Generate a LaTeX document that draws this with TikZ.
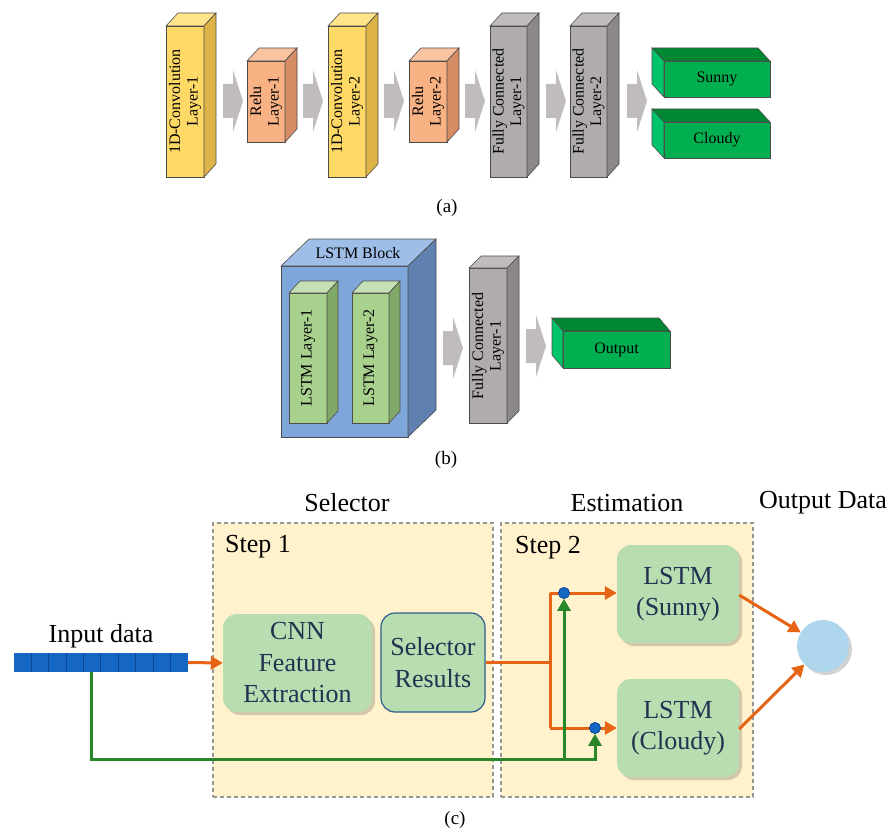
\documentclass[tikz,border=0pt]{standalone}
\usepackage{fontspec}
\setmainfont{Liberation Serif}
\usetikzlibrary{arrows.meta,shadows,calc}

% block colours: F = front, T = top, S = side
\definecolor{convF}{RGB}{255,217,102}
\definecolor{convT}{RGB}{255,228,140}
\definecolor{convS}{RGB}{222,180,72}
\definecolor{reluF}{RGB}{248,178,132}
\definecolor{reluT}{RGB}{251,196,160}
\definecolor{reluS}{RGB}{214,140,100}
\definecolor{fcF}{RGB}{176,172,172}
\definecolor{fcT}{RGB}{192,188,188}
\definecolor{fcS}{RGB}{140,136,136}
\definecolor{grnF}{RGB}{0,176,80}
\definecolor{grnT}{RGB}{0,135,50}
\definecolor{grnS}{RGB}{0,196,106}
\definecolor{blkF}{RGB}{126,166,218}
\definecolor{blkT}{RGB}{158,190,232}
\definecolor{blkS}{RGB}{96,128,176}
\definecolor{lstF}{RGB}{169,209,142}
\definecolor{lstT}{RGB}{197,224,180}
\definecolor{lstS}{RGB}{128,168,104}
\definecolor{chevgray}{RGB}{192,188,188}
\definecolor{stepfill}{RGB}{255,242,204}
\definecolor{stepline}{RGB}{150,150,150}
\definecolor{boxfill}{RGB}{183,221,176}
\definecolor{boxtext}{RGB}{35,50,80}
\definecolor{selline}{RGB}{46,92,140}
\definecolor{orangeline}{RGB}{230,100,20}
\definecolor{greenline}{RGB}{40,135,40}
\definecolor{barblue}{RGB}{22,102,196}
\definecolor{bardiv}{RGB}{15,70,150}
\definecolor{outcircle}{RGB}{174,214,236}

% 3D block with its depth going up and to the right
\newcommand\cubeR[7]{%
  \filldraw[edge, fill=#7F] (#1,#2) rectangle (#3,#4);
  \filldraw[edge, fill=#7T] (#1,#2) -- (#1+#5,#2-#6) -- (#3+#5,#2-#6) -- (#3,#2) -- cycle;
  \filldraw[edge, fill=#7S] (#3,#2) -- (#3+#5,#2-#6) -- (#3+#5,#4-#6) -- (#3,#4) -- cycle;
}
% 3D block with its depth going up and to the left
\newcommand\cubeL[7]{%
  \filldraw[edge, fill=#7F] (#1,#2) rectangle (#3,#4);
  \filldraw[edge, fill=#7T] (#1,#2) -- (#1-#5,#2-#6) -- (#3-#5,#2-#6) -- (#3,#2) -- cycle;
  \filldraw[edge, fill=#7S] (#1,#2) -- (#1-#5,#2-#6) -- (#1-#5,#4-#6) -- (#1,#4) -- cycle;
}
% wide grey block arrow between layers
\newcommand\chev[2]{%
  \fill[chevgray] (#1,#2-17) -- (#1+10,#2-17) -- (#1+10,#2-31) -- (#1+20,#2)
     -- (#1+10,#2+31) -- (#1+10,#2+17) -- (#1,#2+17) -- cycle;
}

\tikzset{
  edge/.style={draw=black!70, line width=0.6pt},
  rot/.style={rotate=90, align=center, font=\fontsize{16}{17.5}\selectfont, inner sep=0pt},
  flat/.style={align=center, font=\fontsize{16}{18}\selectfont, inner sep=0pt},
  subcap/.style={font=\fontsize{19}{22}\selectfont, inner sep=0pt},
  big/.style={font=\fontsize{26}{31}\selectfont, inner sep=0pt},
  stepbox/.style={draw=stepline, fill=stepfill, dashed, dash pattern=on 4pt off 3pt, line width=1.2pt},
  procbox/.style={rounded corners=14pt, fill=boxfill, text=boxtext, align=center,
    font=\fontsize{26}{31.5}\selectfont, inner sep=0pt},
  shadowed/.style={drop shadow={shadow xshift=3pt, shadow yshift=-3pt, opacity=0.22, fill=black!80}},
  oline/.style={draw=orangeline, line width=3pt},
  gline/.style={draw=greenline, line width=3pt},
  tip/.style={-{Triangle[length=12pt,width=13pt]}},
  dot/.style={circle, fill=barblue, draw=bardiv, line width=0.6pt, minimum size=11pt, inner sep=0pt},
}

\begin{document}
\begin{tikzpicture}[x=1pt, y=-1pt]
\useasboundingbox (0,0) rectangle (894,832);

% ---------------- (a) CNN ----------------
\cubeR{166}{26}{204}{177}{12}{13}{conv}
\chev{223}{101}
\cubeR{247}{61}{285}{142}{12}{13}{relu}
\chev{303}{101}
\cubeR{328}{26}{366}{177}{12}{13}{conv}
\chev{384}{101}
\cubeR{409}{61}{447}{142}{12}{13}{relu}
\chev{465}{101}
\cubeR{490}{26}{527}{177}{12}{13}{fc}
\chev{546}{101}
\cubeR{570}{26}{607}{177}{12}{13}{fc}
\chev{627}{101}
\cubeL{664}{61}{770}{97}{12}{13}{grn}
\cubeL{664}{122}{770}{158}{12}{13}{grn}

\node[rot] (conv1) at (185,101.5) {1D-Convolution\\Layer-1};
\node[rot] (relu1) at (266,101.5) {Relu\\Layer-1};
\node[rot] (conv2) at (347,101.5) {1D-Convolution\\Layer-2};
\node[rot] (relu2) at (428,101.5) {Relu\\Layer-2};
\node[rot] (fca1) at (508.5,101.5) {Fully Connected\\Layer-1};
\node[rot] (fca2) at (588.5,101.5) {Fully Connected\\Layer-2};
\node[flat] (sunnyout) at (717,79) {Sunny};
\node[flat] (cloudyout) at (717,140) {Cloudy};
\node[subcap] (capa) at (447,208) {(a)};

% ---------------- (b) LSTM ----------------
\cubeR{281}{266}{408}{437}{28}{27}{blk}
\cubeR{289}{293}{327}{423}{11}{12}{lst}
\cubeR{352}{293}{389}{423}{11}{12}{lst}
\chev{443}{348}
\cubeR{469}{268}{507}{423}{12}{12}{fc}
\chev{526}{346}
\cubeL{563}{331}{670}{368}{11}{13}{grn}

\node[flat] (blocklabel) at (358,253) {LSTM Block};
\node[rot] (lstm1) at (308,358) {LSTM Layer-1};
\node[rot] (lstm2) at (370.5,358) {LSTM Layer-2};
\node[rot] (fcb) at (488,346) {Fully Connected\\Layer-1};
\node[flat] (outb) at (616.5,350) {Output};
\node[subcap] (capb) at (446,460) {(b)};

% ---------------- (c) selector / estimation ----------------
\node[stepbox, minimum width=280pt, minimum height=274pt, inner sep=0pt] (step1) at (353,660) {};
\node[stepbox, minimum width=252pt, minimum height=274pt, inner sep=0pt] (step2) at (627,660) {};

\node[big] (selt) at (347,503) {Selector};
\node[big] (estt) at (627,503) {Estimation};
\node[big] (outt) at (823,503) {Output Data};
\node[big, anchor=base west] (s1t) at (225,552) {Step 1};
\node[big, anchor=base west] (s2t) at (515,553) {Step 2};
\node[big, anchor=base] (inpt) at (101,642) {Input data};

% input sequence
\node[fill=barblue, minimum width=174pt, minimum height=19pt, inner sep=0pt] (bar) at (101,662.5) {};
\foreach \i in {1,...,9}
  \draw[bardiv, line width=0.8pt] ([xshift=\i*17.4pt]bar.north west) -- ([xshift=\i*17.4pt]bar.south west);

\node[procbox, shadowed, minimum width=149pt, minimum height=98pt] (cnn) at (297.5,663) {CNN\\Feature\\Extraction};
\node[procbox, draw=selline, line width=1.2pt, minimum width=104pt, minimum height=99pt] (sel) at (433,662.5) {Selector\\Results};
\node[procbox, shadowed, minimum width=122pt, minimum height=98pt] (sun) at (678,594) {LSTM\\(Sunny)};
\node[procbox, shadowed, minimum width=122pt, minimum height=98pt] (cld) at (678,728) {LSTM\\(Cloudy)};
\node[circle, fill=outcircle, shadowed, minimum size=52pt, inner sep=0pt] (res) at (823,646) {};
\node[subcap] (capc) at (455,820) {(c)};

% routing points
\coordinate (j) at (550,662.5);
\coordinate (jt) at (550,593);
\coordinate (jb) at (550,728);
\coordinate (gy) at (0,759);
\coordinate (gs) at ([xshift=78pt]bar.south west);

% input to CNN
\draw[oline, tip] (bar.east) -- (cnn.west);

% selector output split towards the two estimators
\draw[oline] (sel.east) -- (j);
\draw[oline] (jt) -- (jb);
\draw[oline, tip] (jt) -- (jt -| sun.west);
\draw[oline, tip] (jb) -- (jb -| cld.west);

% raw input bypass
\node[dot] (d1) at (564,593) {};
\node[dot] (d2) at (595,728) {};
\draw[gline, tip] (gs) |- (d2.south |- gy) -- (d2.south);
\draw[gline, tip] (d1.south |- gy) -- (d1.south);
\node[dot] at (d1) {};
\node[dot] at (d2) {};

% estimators to output
\draw[oline, tip] ([yshift=-1pt]sun.east) -- (res);
\draw[oline, tip] ([yshift=-1pt]cld.east) -- (res);
\end{tikzpicture}
\end{document}
